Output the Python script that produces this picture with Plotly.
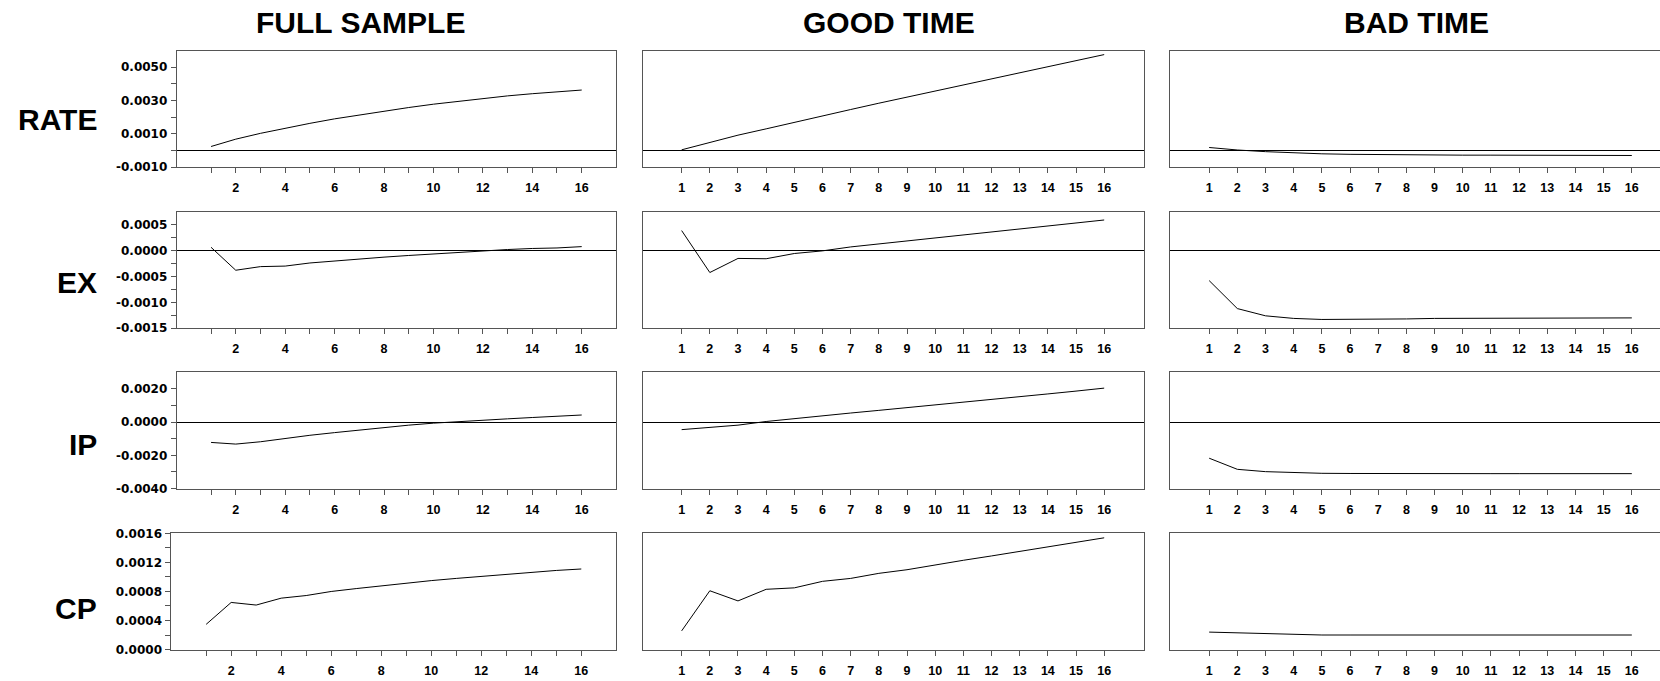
import plotly.graph_objects as go

periods = list(range(1, 17))

rows = ["RATE", "EX", "IP", "CP"]
cols = ["FULL SAMPLE", "GOOD TIME", "BAD TIME"]

# RATE responses
rate_full = [0.00024, 0.00068, 0.00103, 0.00135, 0.00163, 0.00190, 0.00214, 0.00237,
             0.00258, 0.00278, 0.00296, 0.00313, 0.00328, 0.00341, 0.00353, 0.00363]
rate_good = [0.00004, 0.00050, 0.00092, 0.00130, 0.00170, 0.00208, 0.00246, 0.00284,
             0.00320, 0.00358, 0.00394, 0.00430, 0.00467, 0.00503, 0.00540, 0.00576]
rate_bad = [0.00018, 0.00003, -0.00007, -0.00015, -0.00020, -0.00023, -0.00025, -0.00026,
            -0.00027, -0.00028, -0.00028, -0.00029, -0.00029, -0.00029, -0.00030, -0.00030]

# EX responses
ex_full = [0.000063, -0.00038, -0.00031, -0.00030, -0.00024, -0.00020, -0.000165, -0.000127,
           -0.000095, -0.000063, -0.00003, -0.000006, 0.00002, 0.00004, 0.00005, 0.000076]
ex_good = [0.000386, -0.000424, -0.000152, -0.000158, -0.000057, -0.000006, 0.00007, 0.000127,
           0.000184, 0.00024, 0.00030, 0.00036, 0.00042, 0.00047, 0.00053, 0.00059]
ex_bad = [-0.00058, -0.00112, -0.00126, -0.00131, -0.00133, -0.00133, -0.00132, -0.00132,
          -0.00131, -0.00131, -0.00130, -0.00130, -0.00130, -0.00130, -0.00130, -0.00130]

# IP responses
ip_full = [-0.00122, -0.00132, -0.00118, -0.00097, -0.00079, -0.00063, -0.00047, -0.00032,
           -0.00018, -0.00006, 0.00004, 0.00012, 0.00020, 0.00028, 0.00036, 0.00043]
ip_good = [-0.00045, -0.00030, -0.00018, 0.00004, 0.00022, 0.00040, 0.00055, 0.00071,
           0.00087, 0.00103, 0.00118, 0.00136, 0.00154, 0.00170, 0.00187, 0.00205]
ip_bad = [-0.00217, -0.00284, -0.00298, -0.00304, -0.00308, -0.00309, -0.00310, -0.00310,
          -0.00310, -0.00310, -0.00310, -0.00310, -0.00310, -0.00310, -0.00310, -0.00310]

# CP responses
cp_full = [0.000347, 0.000649, 0.000613, 0.000708, 0.000744, 0.00080, 0.00084, 0.00088,
           0.00092, 0.00095, 0.00098, 0.00101, 0.00104, 0.00106, 0.00109, 0.00111]
cp_good = [0.000257, 0.00081, 0.00067, 0.00083, 0.00085, 0.00094, 0.00098, 0.00105,
           0.00110, 0.00117, 0.00123, 0.00129, 0.00135, 0.00142, 0.00147, 0.00154]
cp_bad = [0.00024, 0.00023, 0.00021, 0.00020, 0.00020, 0.00020, 0.00020, 0.00020,
          0.00020, 0.00020, 0.00020, 0.00020, 0.00020, 0.00020, 0.00020, 0.00020]

series = [
    [rate_full, rate_good, rate_bad],
    [ex_full, ex_good, ex_bad],
    [ip_full, ip_good, ip_bad],
    [cp_full, cp_good, cp_bad],
]

# y-axis ranges and ticks per row
y_ranges = [[-0.001, 0.006], [-0.0015, 0.00075], [-0.004, 0.003], [0.0, 0.0016]]
y_tickvals = [
    [-0.001, 0.0, 0.001, 0.002, 0.003, 0.004, 0.005],
    [-0.0015, -0.00125, -0.001, -0.00075, -0.0005, -0.00025, 0.0, 0.00025, 0.0005],
    [-0.004, -0.003, -0.002, -0.001, 0.0, 0.001, 0.002],
    [0.0, 0.0002, 0.0004, 0.0006, 0.0008, 0.001, 0.0012, 0.0014, 0.0016],
]
y_ticktext = [
    ["-0.0010", "", "0.0010", "", "0.0030", "", "0.0050"],
    ["-0.0015", "", "-0.0010", "", "-0.0005", "", "0.0000", "", "0.0005"],
    ["-0.0040", "", "-0.0020", "", "0.0000", "", "0.0020"],
    ["0.0000", "", "0.0004", "", "0.0008", "", "0.0012", "", "0.0016"],
]

W, H = 1660, 681
# layout in pixels
col_x = [(176.7, 616.3), (642.5, 1143.9), (1170.0, 1660.0)]
col1_row4_left = 171.4
x_ranges = [[-0.39, 17.40], [-0.39, 17.41], [-0.39, 17.0]]
row_y = [(44.5, 163.5), (209.0, 328.0), (373.0, 491.7), (537.5, 656.0)]

FONT = "Liberation Sans, Arial, sans-serif"
YFONT = "DejaVu Sans, Liberation Sans, sans-serif"
BOX = "#555555"

fig = go.Figure()
layout = {}
for r in range(4):
    for c in range(3):
        k = r * 3 + c + 1
        sx = "" if k == 1 else str(k)
        fig.add_trace(go.Scatter(
            x=periods, y=series[r][c], mode="lines",
            line=dict(color="black", width=1),
            xaxis="x" + sx, yaxis="y" + sx, showlegend=False, hoverinfo="skip"))
        x0, x1 = col_x[c]
        if c == 0 and r == 3:
            x0 = col1_row4_left
        yt, yb = row_y[r]
        if c == 0:
            xtext = [str(p) if p % 2 == 0 else "" for p in periods]
        else:
            xtext = [str(p) for p in periods]
        layout["xaxis" + sx] = dict(
            domain=[x0 / W, min(x1 / W, 1.0)], range=x_ranges[c], anchor="y" + sx,
            tickmode="array", tickvals=periods, ticktext=xtext,
            ticks="outside", ticklen=5, tickcolor=BOX, tickwidth=1,
            ticklabelstandoff=4,
            showline=True, linecolor=BOX, linewidth=1, mirror=True,
            showgrid=False, zeroline=False, fixedrange=True,
            tickfont=dict(family=FONT, size=12.5, color="black", weight="bold"),
        )
        ydict = dict(
            domain=[1 - yb / H, 1 - yt / H], range=y_ranges[r], anchor="x" + sx,
            showline=True, linecolor=BOX, linewidth=1, mirror=(c != 2),
            showgrid=False, zeroline=True, zerolinecolor="black", zerolinewidth=1,
            fixedrange=True,
        )
        if c == 0:
            ydict.update(tickmode="array", tickvals=y_tickvals[r], ticktext=y_ticktext[r],
                         ticks="outside", ticklen=5, tickcolor=BOX, tickwidth=1,
                         ticklabelstandoff=1,
                         tickfont=dict(family=YFONT, size=12, color="black", weight="bold"))
        else:
            ydict.update(showticklabels=False, ticks="")
        layout["yaxis" + sx] = ydict

annotations = []
title_x = [360, 889, 1416]
for c, t in enumerate(cols):
    annotations.append(dict(text=t, x=title_x[c] / W, y=1 - 16 / H, xref="paper", yref="paper",
                            xanchor="center", yanchor="middle", showarrow=False,
                            font=dict(family=FONT, size=30, color="black", weight="bold")))
label_y = [115, 281, 447, 614]
for r, t in enumerate(rows):
    annotations.append(dict(text=t, x=99 / W, y=1 - label_y[r] / H, xref="paper", yref="paper",
                            xanchor="right", yanchor="middle", showarrow=False,
                            font=dict(family=FONT, size=30, color="black", weight="bold")))

fig.update_layout(
    width=W, height=H, margin=dict(l=0, r=0, t=0, b=0),
    paper_bgcolor="white", plot_bgcolor="white",
    annotations=annotations, **layout)

fig.write_html(
    "out.html",
    config={"displayModeBar": False, "staticPlot": True},
    post_script="document.body.style.margin='0';document.body.style.overflow='hidden';",
)
